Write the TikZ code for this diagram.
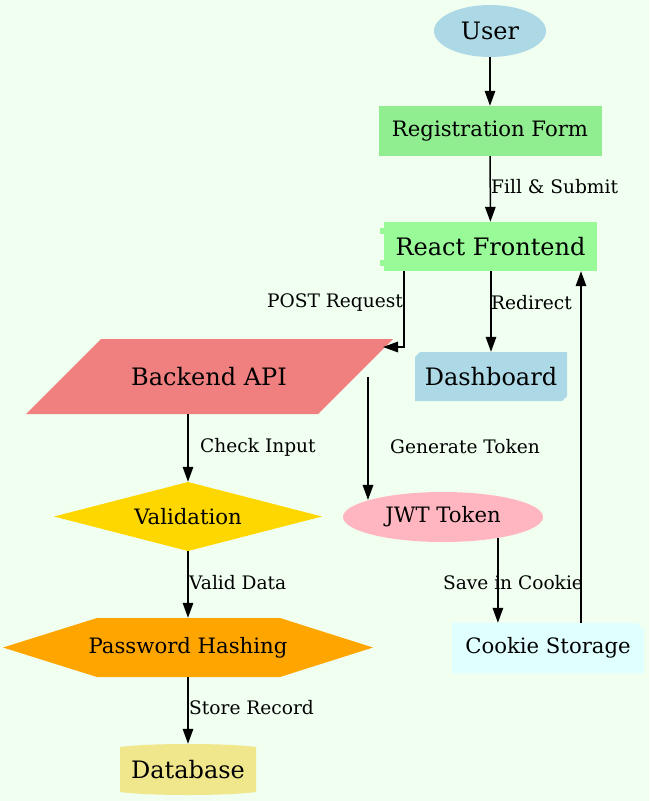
\documentclass[tikz,border=0pt]{standalone}
\usepackage{fontspec}
\setmainfont{DejaVu Serif}
\usetikzlibrary{shapes.geometric,arrows.meta,calc}
\definecolor{bgc}{HTML}{F0FFF0}
\definecolor{lblue}{HTML}{ADD8E6}
\definecolor{lgreen}{HTML}{90EE90}
\definecolor{pgreen}{HTML}{98FB98}
\definecolor{lcoral}{HTML}{F08080}
\definecolor{gld}{HTML}{FFD700}
\definecolor{lpink}{HTML}{FFB6C1}
\definecolor{orng}{HTML}{FFA500}
\definecolor{lcyan}{HTML}{E0FFFF}
\definecolor{khk}{HTML}{F0E68C}
\tikzset{
  bigt/.style={font=\fontsize{24}{28}\selectfont, inner sep=0pt},
  midt/.style={font=\fontsize{21.2}{25}\selectfont, inner sep=0pt},
  elab/.style={font=\fontsize{18.6}{22}\selectfont, inner sep=0pt},
  arr/.style={draw=black, line width=1.5pt, -{Triangle[length=15pt,width=10.5pt]}},
}
\begin{document}
\begin{tikzpicture}[x=1pt,y=-1pt]
\fill[bgc] (0,0) rectangle (649,801);
\useasboundingbox (0,0) rectangle (649,801);

% User
\node[ellipse, fill=lblue, minimum width=112pt, minimum height=52pt, bigt] (user) at (490,31) {User};
% Registration Form
\node[rectangle, fill=lgreen, minimum width=223pt, minimum height=50pt, midt] (reg) at (490,131) {Registration Form};
% React Frontend (component)
\fill[pgreen] (380,228) rectangle (386,234);
\fill[pgreen] (380,260) rectangle (386,266);
\node[rectangle, fill=pgreen, minimum width=213pt, minimum height=49pt, bigt] (react) at (490.5,246.5) {React Frontend};
% Backend API (parallelogram)
\fill[lcoral] (101,339) -- (393,339) -- (318,414) -- (26,414) -- cycle;
\node[minimum width=200pt, minimum height=75pt, bigt] (api) at (209,376.5) {Backend API};
% Dashboard
\fill[lblue] (420,352) -- (567,352) -- (567,396) -- (562,401) -- (415,401) -- (415,357) -- cycle;
\node[minimum width=152pt, minimum height=49pt, bigt] (dash) at (491,376.5) {Dashboard};
% Validation (diamond)
\fill[gld] (54,516.5) -- (188,482) -- (322,516.5) -- (188,551) -- cycle;
\node[minimum width=120pt, minimum height=69pt, midt] (val) at (188,516.5) {Validation};
% JWT Token
\node[ellipse, fill=lpink, minimum width=200pt, minimum height=50pt, midt] (jwt) at (443,517) {JWT Token};
% Password Hashing (hexagon)
\fill[orng] (3,647.5) -- (97,618) -- (280,618) -- (373,647.5) -- (280,677) -- (97,677) -- cycle;
\node[minimum width=180pt, minimum height=59pt, midt] (pw) at (188,647.5) {Password Hashing};
% Cookie Storage
\fill[lcyan] (452,623) -- (637,623) -- (644,630) -- (644,673) -- (452,673) -- cycle;
\node[minimum width=192pt, minimum height=50pt, midt] (cookie) at (548,648) {Cookie Storage};
% Database (cylinder)
\fill[khk] (120,747) .. controls (150,743) and (226,743) .. (256,747) -- (256,792) .. controls (226,796) and (150,796) .. (120,792) -- cycle;
\node[minimum width=136pt, minimum height=51pt, bigt] (db) at (188,769.5) {Database};

% Edges
\draw[arr] (user) -- (reg);
\draw[arr] (reg) -- (react);
\node[elab, anchor=west] (lfill) at (491,187) {Fill \& Submit};

\coordinate (posttip) at (383,347);
\draw[arr] ($(react.south west)+(20,0)$) |- (posttip);
\node[elab, anchor=east] (lpost) at (403,303) {POST Request};

\draw[arr] (react.south -| dash.north) -- (dash.north);
\node[elab, anchor=west] (lredir) at (491,303) {Redirect};

\draw[arr] (api.south -| val.north) -- (val.north);
\node[elab, anchor=west] (lcheck) at (200,447) {Check Input};

\coordinate (gstart) at (368,377);
\draw[arr] (gstart) -- (gstart |- jwt.167.6);
\node[elab, anchor=west] (lgen) at (390,447) {Generate Token};

\draw[arr] (val.south) -- (pw.north);
\node[elab, anchor=west] (lvalid) at (189,583) {Valid Data};

\draw[arr] (jwt.-21.25) -- (jwt.-21.25 |- cookie.north);
\node[elab] (lsave) at (513,583) {Save in Cookie};

\draw[arr] ($(cookie.north)+(33,0)$) coordinate (cs) -- (cs |- react.south);

\draw[arr] (pw.south) -- (db.north);
\node[elab, anchor=west] (lstore) at (189,708) {Store Record};
\end{tikzpicture}
\end{document}
